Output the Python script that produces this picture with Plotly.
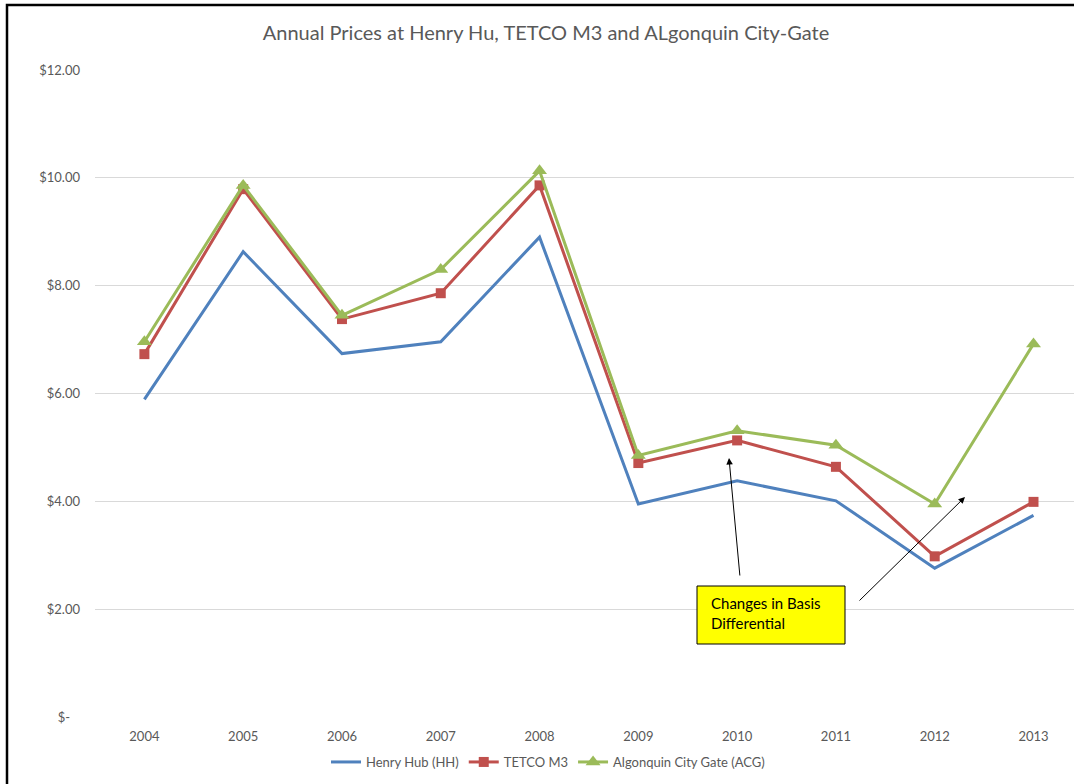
import plotly.graph_objects as go

years = ["2004", "2005", "2006", "2007", "2008", "2009", "2010", "2011", "2012", "2013"]
henry_hub = [5.89, 8.63, 6.74, 6.96, 8.90, 3.95, 4.38, 4.01, 2.76, 3.74]
tetco_m3 = [6.73, 9.79, 7.38, 7.86, 9.86, 4.71, 5.13, 4.64, 2.98, 3.99]
algonquin = [6.96, 9.86, 7.45, 8.30, 10.13, 4.85, 5.31, 5.04, 3.95, 6.92]

y_tickvals = [0, 2, 4, 6, 8, 10, 12]
y_ticktext = ["$-\u00a0\u00a0\u00a0", "$2.00", "$4.00", "$6.00", "$8.00", "$10.00", "$12.00"]

title_text = "Annual Prices at Henry Hu, TETCO M3 and ALgonquin City-Gate"
note_text = "Changes in Basis<br>Differential"

FONT = "Lato, 'Open Sans', sans-serif"
GRAY = "#595959"

W, H = 1074, 784
L, R, T, B = 95, 0, 70, 67
pw, ph = W - L - R, H - T - B

def px(x):
    return (x - L) / pw

def py(y):
    return (H - B - y) / ph

fig = go.Figure()
fig.add_trace(go.Scatter(x=years, y=henry_hub, name="Henry Hub (HH)", mode="lines",
                         line=dict(color="#4F81BD", width=3)))
fig.add_trace(go.Scatter(x=years, y=tetco_m3, name="TETCO M3", mode="lines+markers",
                         line=dict(color="#C0504D", width=3),
                         marker=dict(symbol="square", size=10, color="#C0504D")))
fig.add_trace(go.Scatter(x=years, y=algonquin, name="Algonquin City Gate (ACG)", mode="lines+markers",
                         line=dict(color="#9BBB59", width=3),
                         marker=dict(symbol="triangle-up", size=13, color="#9BBB59")))

shapes = [
    # chart border (left and top visible)
    dict(type="rect", xref="paper", yref="paper",
         x0=px(7), x1=px(1100), y0=py(800), y1=py(5),
         line=dict(color="#000000", width=2.5), fillcolor="rgba(0,0,0,0)", layer="above"),
    # yellow note box
    dict(type="rect", xref="paper", yref="paper",
         x0=px(697), x1=px(845), y0=py(644), y1=py(586),
         line=dict(color="#000000", width=1), fillcolor="#FFFF00", layer="above"),
]

annotations = [
    dict(text=note_text, xref="paper", yref="paper", x=px(709), y=py(613),
         xanchor="left", yanchor="middle", align="left", showarrow=False,
         font=dict(family=FONT, size=15, color="#000000")),
    dict(text="", xref="paper", yref="paper", x=px(729), y=py(458),
         ax=11, ay=119, showarrow=True, arrowhead=2, arrowsize=1.3, arrowwidth=1,
         arrowcolor="#000000"),
    dict(text="", xref="paper", yref="paper", x=px(965), y=py(497),
         ax=-107, ay=105, showarrow=True, arrowhead=2, arrowsize=1.3, arrowwidth=1,
         arrowcolor="#000000"),
]

fig.update_layout(
    width=W, height=H,
    margin=dict(l=L, r=R, t=T, b=B),
    paper_bgcolor="white", plot_bgcolor="white",
    font=dict(family=FONT, size=13, color=GRAY),
    title=dict(text=title_text, xref="paper", x=px(546), xanchor="center",
               yref="container", y=1 - 33 / H, yanchor="middle",
               font=dict(family=FONT, size=20, color=GRAY)),
    xaxis=dict(type="category", range=[-0.5, 9.41], showgrid=False, zeroline=False,
               showline=False, ticks="", ticklabelstandoff=10,
               tickfont=dict(family=FONT, size=13, color=GRAY)),
    yaxis=dict(range=[0, 12], tickvals=y_tickvals, ticktext=y_ticktext,
               showgrid=True, gridcolor="#D9D9D9", gridwidth=1, zeroline=False,
               showline=False, ticks="", ticklabelstandoff=14,
               tickfont=dict(family=FONT, size=13, color=GRAY)),
    legend=dict(orientation="h", xref="paper", x=px(548), xanchor="center",
                yref="paper", y=py(762), yanchor="middle",
                font=dict(family=FONT, size=13, color=GRAY), itemwidth=30),
    shapes=shapes,
    annotations=annotations,
    showlegend=True,
    hovermode=False,
)

fig.write_html("out.html",
               config={"displayModeBar": False, "staticPlot": True},
               post_script="document.body.style.margin='0';document.body.style.overflow='hidden';")
